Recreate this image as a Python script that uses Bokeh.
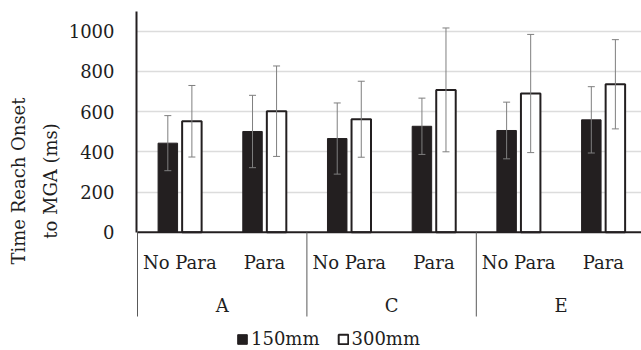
import math
from bokeh.plotting import figure
from bokeh.models import (ColumnDataSource, Range1d, FixedTicker, Title, Legend, LegendItem)
from bokeh.core.properties import value
from bokeh.embed import file_html
from bokeh.resources import INLINE

# ---- data ----
groups = ["A", "C", "E"]
conditions = ["No Para", "Para"]
series_names = ["150mm", "300mm"]
mean_150 = [443, 501, 466, 527, 506, 559]
sd_150 = [137, 180, 177, 140, 141, 165]
mean_300 = [552, 602, 562, 708, 690, 736]
sd_300 = [178, 225, 189, 308, 294, 222]
y_ticks = [0, 200, 400, 600, 800, 1000]
y_title = ["Time Reach Onset", "to MGA (ms)"]

# ---- layout constants ----
W, H = 641, 350
FRAME_LEFT = 136
FRAME_TOP = 11
X0_PX = 137.0            # pixel of x = 0
CAT_PX = 84.7            # pixels per category
Y0_PX = 231.7            # pixel of y = 0
Y_SCALE = 0.201          # pixels per unit

def px_to_x(px):
    return (px - X0_PX) / CAT_PX

def py_to_y(py):
    return (Y0_PX - py) / Y_SCALE

x_start = px_to_x(FRAME_LEFT)
x_end = px_to_x(W)
y_end = py_to_y(FRAME_TOP)
y_start = py_to_y(H)

FONT = "DejaVu Serif"
TXT = "#1e1e1e"
DARK = "#231f20"
ERR = "#7f7f7f"

p = figure(width=W, height=H, output_backend="svg", toolbar_location=None,
           x_axis_type=None, x_range=Range1d(x_start, x_end),
           y_range=Range1d(y_start, y_end),
           min_border_left=FRAME_LEFT, min_border_right=0,
           min_border_top=FRAME_TOP, min_border_bottom=0)
p.outline_line_color = None
p.background_fill_color = "white"
p.border_fill_color = "white"

# y axis
ax = p.yaxis[0]
ax.ticker = FixedTicker(ticks=y_ticks)
ax.bounds = (0, y_end)
ax.axis_line_color = DARK
ax.axis_line_width = 2
ax.major_tick_line_color = None
ax.major_tick_out = 0
ax.major_tick_in = 0
ax.minor_tick_line_color = None
ax.major_label_standoff = 22
ax.major_label_text_font = FONT
ax.major_label_text_font_size = "18px"
ax.major_label_text_color = TXT

# y title: two side titles, shifted up to sit where the reference has them
frame_mid = (FRAME_TOP + H) / 2
title_mid = 144.5
for txt, standoff in zip(reversed(y_title), (10, 7)):
    t = Title(text=txt, align="center", offset=frame_mid - title_mid,
              standoff=standoff, text_font=FONT, text_font_size="18px",
              text_font_style="normal", text_color=TXT)
    p.add_layout(t, "left")

p.ygrid.ticker = FixedTicker(ticks=y_ticks[1:])
p.ygrid.grid_line_color = "#dcdcdc"
p.ygrid.grid_line_width = 1.5
p.ygrid.bounds = (0, y_end)
p.xgrid.visible = False

# ---- bars ----
n = len(groups) * len(conditions)
centers = [i + 0.5 for i in range(n)]
off = 0.142
bw = 0.23
cap = 7.0 / CAT_PX / 2

def make_src(xs, means, sds):
    up = [m + s for m, s in zip(means, sds)]
    lo = [m - s for m, s in zip(means, sds)]
    return ColumnDataSource(dict(x=xs, top=means, upper=up, lower=lo,
                                 cl=[x - cap for x in xs], cr=[x + cap for x in xs]))

src150 = make_src([c - off for c in centers], mean_150, sd_150)
src300 = make_src([c + off for c in centers], mean_300, sd_300)

r150 = p.vbar(x="x", top="top", bottom=0, width=bw, source=src150,
              fill_color=DARK, line_color=DARK, line_width=1)
r300 = p.vbar(x="x", top="top", bottom=0, width=bw, source=src300,
              fill_color="white", line_color=DARK, line_width=2)

for s in (src150, src300):
    p.segment(x0="x", y0="lower", x1="x", y1="upper", source=s,
              line_color=ERR, line_width=1)
    p.segment(x0="cl", y0="upper", x1="cr", y1="upper", source=s,
              line_color=ERR, line_width=1)
    p.segment(x0="cl", y0="lower", x1="cr", y1="lower", source=s,
              line_color=ERR, line_width=1)

# baseline
p.segment(x0=[0], y0=[0], x1=[x_end], y1=[0], line_color=DARK, line_width=2)

# ---- category axis (drawn in frame below zero) ----
sep_x = [float(i * len(conditions)) for i in range(len(groups) + 1)]
sep_bottom = py_to_y(316)
p.segment(x0=sep_x, y0=[0] * len(sep_x), x1=sep_x, y1=[sep_bottom] * len(sep_x),
          line_color="#595959", line_width=1)

sub_labels = [c for g in groups for c in conditions]
p.text(x=centers, y=[py_to_y(262)] * n, text=sub_labels,
       text_font=value(FONT), text_font_size="18px", text_color=TXT,
       text_align="center", text_baseline="middle")
gcenters = [i * len(conditions) + len(conditions) / 2 for i in range(len(groups))]
p.text(x=gcenters, y=[py_to_y(305)] * len(groups), text=groups,
       text_font=value(FONT), text_font_size="18px", text_color=TXT,
       text_align="center", text_baseline="middle")

# ---- legend ----
legend = Legend(items=[LegendItem(label=series_names[0], renderers=[r150]),
                       LegendItem(label=series_names[1], renderers=[r300])],
                orientation="horizontal", location=(100, 1),
                glyph_width=12, glyph_height=12, label_standoff=3, spacing=17,
                padding=0, margin=0, border_line_color=None,
                background_fill_alpha=0,
                label_text_font=FONT, label_text_font_size="18px",
                label_text_color=TXT)
p.add_layout(legend)

open("out.html", "w").write(file_html(p, INLINE))
